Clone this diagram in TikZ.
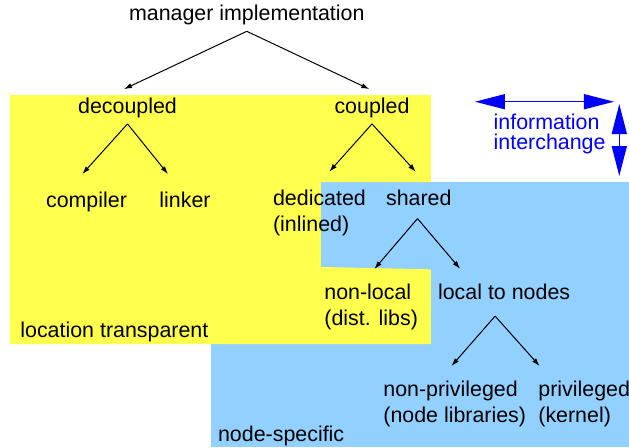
\documentclass[tikz,border=0pt]{standalone}
\usepackage{fontspec}
\setmainfont{Liberation Sans}
\usetikzlibrary{arrows.meta}
\definecolor{ltyellow}{RGB}{255,255,77}
\definecolor{ltblue}{RGB}{146,208,255}
\tikzset{
 lbl/.style={font=\fontsize{10.7}{12.85}\selectfont, inner xsep=0pt, inner ysep=2.4pt, text height=8pt, text depth=2.7pt},
 lbl2/.style={font=\fontsize{10.7}{12.85}\selectfont, inner sep=0pt, align=left, anchor=north west},
 tree/.style={-{Latex[length=4pt,width=2.6pt]}, line width=0.5pt},
 xchg/.style={{Triangle[length=15pt,width=7.5pt]}-{Triangle[length=15pt,width=7.5pt]}, blue, line width=0.75pt}
}
\begin{document}
\begin{tikzpicture}[x=0.5pt, y=-0.5pt]
 \useasboundingbox (0, 0) rectangle (629, 447);
 \fill[ltblue] (211, 182) rectangle (629, 447);
 \fill[ltyellow] (10, 95) -- (431, 95) -- (431, 182) -- (321, 182) -- (321, 267) -- (431, 269.3) -- (431, 344) -- (10, 344) -- cycle;
 \node[lbl, anchor=base] (mgr) at (246.8, 20.7) {manager implementation};
 \node[lbl, anchor=base] (dec) at (127.5, 113.3) {decoupled};
 \node[lbl, anchor=base] (cpl) at (372, 113.3) {coupled};
 \node[lbl, anchor=base] (cmp) at (86.5, 207.3) {compiler};
 \node[lbl, anchor=base] (lnk) at (185, 207.3) {linker};
 \node[lbl2] (ded) at (272.7, 189.7) {dedicated\\(inlined)};
 \node[lbl, anchor=base west] (shr) at (385.7, 205) {shared};
 \node[lbl2] (nloc) at (324, 283.7) {non-local\\(dist. libs)};
 \node[lbl, anchor=base west] (lnod) at (437.7, 299) {local to nodes};
 \node[lbl2] (nprv) at (383, 380.7) {non-privileged\\(node libraries)};
 \node[lbl2] (prv) at (538, 380.7) {privileged\\(kernel)};
 \node[lbl, anchor=base west] (loctr) at (20, 337.7) {location transparent};
 \node[lbl, anchor=base west] (nspec) at (217.7, 441) {node-specific};
 \node[lbl2, text=blue, font=\fontsize{10.7}{10}\selectfont] (info) at (493.3, 113.8) {information\\interchange};
 \draw[tree] (mgr.south) -- ([shift={(-3.5,-3)}]dec.north);
 \draw[tree] (mgr.south) -- ([shift={(-2.7,-3)}]cpl.north);
 \draw[tree] (dec.south) -- ([shift={(-4.2,-12)}]cmp.north);
 \draw[tree] (dec.south) -- ([shift={(-17,-12)}]lnk.north);
 \draw[tree] (cpl.south) -- ([shift={(9.8,-18)}]ded.north);
 \draw[tree] (cpl.south) -- ([shift={(-3,-12)}]shr.north);
 \draw[tree] ([shift={(-1.3,3)}]shr.south) -- ([shift={(3.2,-14.7)}]nloc.north);
 \draw[tree] ([shift={(-1.3,3)}]shr.south) -- ([shift={(-44,-9)}]lnod.north);
 \draw[tree] ([shift={(-9,6.5)}]lnod.south) -- ([shift={(-3.3,-14.7)}]nprv.north);
 \draw[tree] ([shift={(-9,6.5)}]lnod.south) -- ([shift={(-44.6,-14.7)}]prv.north);
 \coordinate (xl) at (475, 101.7);
 \coordinate (xr) at (614, 101.7);
 \coordinate (yt) at (619.3, 104);
 \coordinate (yb) at (619.3, 176);
 \draw[xchg] (xl) -- (xr);
 \draw[xchg] (yt) -- (yb);
\end{tikzpicture}
\end{document}
